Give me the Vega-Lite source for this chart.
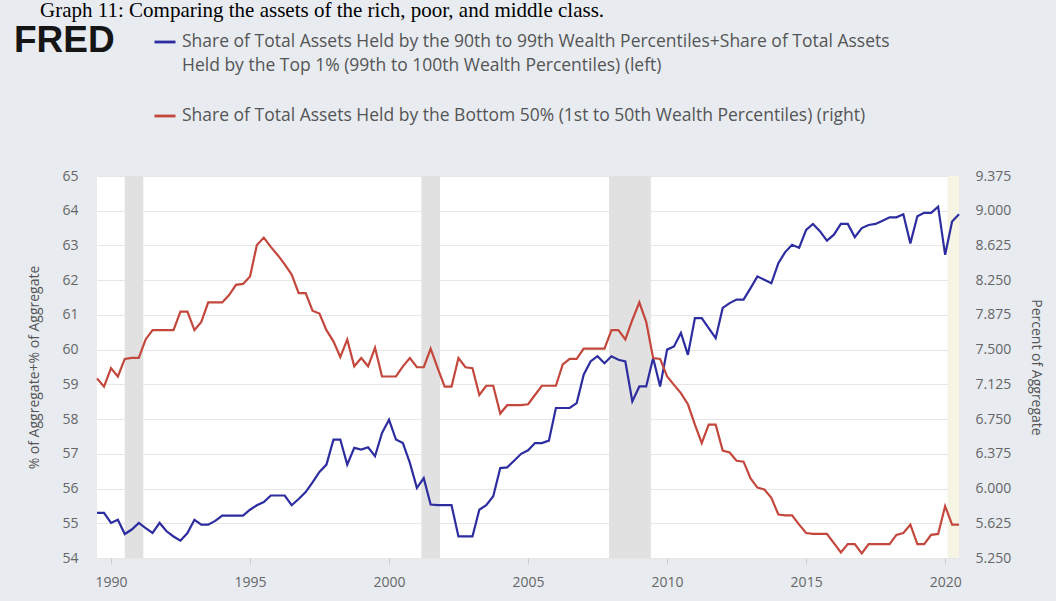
{
  "$schema": "https://vega.github.io/schema/vega-lite/v6.json",
  "width": 862,
  "height": 382,
  "autosize": {"type": "none"},
  "padding": {"left": 97, "top": 176, "right": 97, "bottom": 43},
  "background": "#e8ecf1",
  "config": {
    "view": {"fill": "#ffffff", "stroke": null},
    "font": "Open Sans",
    "style": {"guide-label": {"lineHeight": 24}},
    "axis": {"labelColor": "#666666", "labelFontSize": 14, "labelFont": "Open Sans", "titleFont": "Open Sans", "titleFontWeight": "normal", "titleColor": "#555555", "titleFontSize": 14, "gridColor": "#e6e6e6", "domain": false}
  },
  "title": {
    "text": "Graph 11: Comparing the assets of the rich, poor, and middle class.",
    "font": "Liberation Serif",
    "fontSize": 21,
    "fontWeight": "normal",
    "color": "#000000",
    "anchor": "start",
    "frame": "group",
    "baseline": "alphabetic",
    "dx": -57,
    "offset": -8
  },
  "datasets": {
    "rec": [
      {"start": "1990-07-01", "end": "1991-03-01", "kind": "gray"},
      {"start": "2001-03-01", "end": "2001-11-01", "kind": "gray"},
      {"start": "2007-12-01", "end": "2009-06-01", "kind": "gray"},
      {"start": "2020-02-01", "end": "2020-07-01", "kind": "covid"}
    ],
    "assets": [
      {"d": "1989-07-01", "top": 55.30, "bot": 7.19},
      {"d": "1989-10-01", "top": 55.30, "bot": 7.10},
      {"d": "1990-01-01", "top": 55.01, "bot": 7.30},
      {"d": "1990-04-01", "top": 55.10, "bot": 7.21},
      {"d": "1990-07-01", "top": 54.69, "bot": 7.40},
      {"d": "1990-10-01", "top": 54.82, "bot": 7.41},
      {"d": "1991-01-01", "top": 55.01, "bot": 7.41},
      {"d": "1991-04-01", "top": 54.86, "bot": 7.61},
      {"d": "1991-07-01", "top": 54.72, "bot": 7.71},
      {"d": "1991-10-01", "top": 55.01, "bot": 7.71},
      {"d": "1992-01-01", "top": 54.77, "bot": 7.71},
      {"d": "1992-04-01", "top": 54.62, "bot": 7.71},
      {"d": "1992-07-01", "top": 54.50, "bot": 7.91},
      {"d": "1992-10-01", "top": 54.72, "bot": 7.91},
      {"d": "1993-01-01", "top": 55.10, "bot": 7.71},
      {"d": "1993-04-01", "top": 54.96, "bot": 7.80},
      {"d": "1993-07-01", "top": 54.96, "bot": 8.01},
      {"d": "1993-10-01", "top": 55.07, "bot": 8.01},
      {"d": "1994-01-01", "top": 55.22, "bot": 8.01},
      {"d": "1994-04-01", "top": 55.22, "bot": 8.09},
      {"d": "1994-07-01", "top": 55.22, "bot": 8.20},
      {"d": "1994-10-01", "top": 55.22, "bot": 8.21},
      {"d": "1995-01-01", "top": 55.39, "bot": 8.29},
      {"d": "1995-04-01", "top": 55.52, "bot": 8.63},
      {"d": "1995-07-01", "top": 55.61, "bot": 8.71},
      {"d": "1995-10-01", "top": 55.80, "bot": 8.61},
      {"d": "1996-01-01", "top": 55.80, "bot": 8.52},
      {"d": "1996-04-01", "top": 55.80, "bot": 8.42},
      {"d": "1996-07-01", "top": 55.52, "bot": 8.31},
      {"d": "1996-10-01", "top": 55.70, "bot": 8.11},
      {"d": "1997-01-01", "top": 55.90, "bot": 8.11},
      {"d": "1997-04-01", "top": 56.18, "bot": 7.92},
      {"d": "1997-07-01", "top": 56.48, "bot": 7.89},
      {"d": "1997-10-01", "top": 56.69, "bot": 7.71},
      {"d": "1998-01-01", "top": 57.41, "bot": 7.59},
      {"d": "1998-04-01", "top": 57.41, "bot": 7.42},
      {"d": "1998-07-01", "top": 56.69, "bot": 7.61},
      {"d": "1998-10-01", "top": 57.17, "bot": 7.32},
      {"d": "1999-01-01", "top": 57.12, "bot": 7.41},
      {"d": "1999-04-01", "top": 57.19, "bot": 7.32},
      {"d": "1999-07-01", "top": 56.93, "bot": 7.52},
      {"d": "1999-10-01", "top": 57.60, "bot": 7.21},
      {"d": "2000-01-01", "top": 57.98, "bot": 7.21},
      {"d": "2000-04-01", "top": 57.41, "bot": 7.21},
      {"d": "2000-07-01", "top": 57.31, "bot": 7.32},
      {"d": "2000-10-01", "top": 56.74, "bot": 7.41},
      {"d": "2001-01-01", "top": 56.02, "bot": 7.31},
      {"d": "2001-04-01", "top": 56.30, "bot": 7.31},
      {"d": "2001-07-01", "top": 55.54, "bot": 7.51},
      {"d": "2001-10-01", "top": 55.52, "bot": 7.30},
      {"d": "2002-01-01", "top": 55.52, "bot": 7.10},
      {"d": "2002-04-01", "top": 55.52, "bot": 7.10},
      {"d": "2002-07-01", "top": 54.62, "bot": 7.41},
      {"d": "2002-10-01", "top": 54.62, "bot": 7.31},
      {"d": "2003-01-01", "top": 54.62, "bot": 7.30},
      {"d": "2003-04-01", "top": 55.39, "bot": 7.01},
      {"d": "2003-07-01", "top": 55.52, "bot": 7.11},
      {"d": "2003-10-01", "top": 55.78, "bot": 7.11},
      {"d": "2004-01-01", "top": 56.59, "bot": 6.81},
      {"d": "2004-04-01", "top": 56.61, "bot": 6.90},
      {"d": "2004-07-01", "top": 56.80, "bot": 6.90},
      {"d": "2004-10-01", "top": 57.00, "bot": 6.90},
      {"d": "2005-01-01", "top": 57.10, "bot": 6.91},
      {"d": "2005-04-01", "top": 57.31, "bot": 7.01},
      {"d": "2005-07-01", "top": 57.31, "bot": 7.11},
      {"d": "2005-10-01", "top": 57.38, "bot": 7.11},
      {"d": "2006-01-01", "top": 58.32, "bot": 7.11},
      {"d": "2006-04-01", "top": 58.32, "bot": 7.34},
      {"d": "2006-07-01", "top": 58.32, "bot": 7.40},
      {"d": "2006-10-01", "top": 58.46, "bot": 7.40},
      {"d": "2007-01-01", "top": 59.28, "bot": 7.51},
      {"d": "2007-04-01", "top": 59.66, "bot": 7.51},
      {"d": "2007-07-01", "top": 59.81, "bot": 7.51},
      {"d": "2007-10-01", "top": 59.61, "bot": 7.51},
      {"d": "2008-01-01", "top": 59.81, "bot": 7.71},
      {"d": "2008-04-01", "top": 59.71, "bot": 7.71},
      {"d": "2008-07-01", "top": 59.66, "bot": 7.61},
      {"d": "2008-10-01", "top": 58.51, "bot": 7.82},
      {"d": "2009-01-01", "top": 58.94, "bot": 8.01},
      {"d": "2009-04-01", "top": 58.94, "bot": 7.80},
      {"d": "2009-07-01", "top": 59.76, "bot": 7.41},
      {"d": "2009-10-01", "top": 58.94, "bot": 7.40},
      {"d": "2010-01-01", "top": 60.00, "bot": 7.21},
      {"d": "2010-04-01", "top": 60.09, "bot": 7.12},
      {"d": "2010-07-01", "top": 60.48, "bot": 7.03},
      {"d": "2010-10-01", "top": 59.85, "bot": 6.91},
      {"d": "2011-01-01", "top": 60.91, "bot": 6.69},
      {"d": "2011-04-01", "top": 60.91, "bot": 6.49},
      {"d": "2011-07-01", "top": 60.62, "bot": 6.69},
      {"d": "2011-10-01", "top": 60.33, "bot": 6.69},
      {"d": "2012-01-01", "top": 61.20, "bot": 6.41},
      {"d": "2012-04-01", "top": 61.34, "bot": 6.39},
      {"d": "2012-07-01", "top": 61.44, "bot": 6.30},
      {"d": "2012-10-01", "top": 61.44, "bot": 6.29},
      {"d": "2013-01-01", "top": 61.77, "bot": 6.11},
      {"d": "2013-04-01", "top": 62.11, "bot": 6.01},
      {"d": "2013-07-01", "top": 62.01, "bot": 5.99},
      {"d": "2013-10-01", "top": 61.91, "bot": 5.90},
      {"d": "2014-01-01", "top": 62.49, "bot": 5.72},
      {"d": "2014-04-01", "top": 62.81, "bot": 5.71},
      {"d": "2014-07-01", "top": 63.02, "bot": 5.71},
      {"d": "2014-10-01", "top": 62.93, "bot": 5.61},
      {"d": "2015-01-01", "top": 63.45, "bot": 5.52},
      {"d": "2015-04-01", "top": 63.62, "bot": 5.51},
      {"d": "2015-07-01", "top": 63.41, "bot": 5.51},
      {"d": "2015-10-01", "top": 63.14, "bot": 5.51},
      {"d": "2016-01-01", "top": 63.31, "bot": 5.41},
      {"d": "2016-04-01", "top": 63.62, "bot": 5.31},
      {"d": "2016-07-01", "top": 63.62, "bot": 5.40},
      {"d": "2016-10-01", "top": 63.24, "bot": 5.40},
      {"d": "2017-01-01", "top": 63.50, "bot": 5.30},
      {"d": "2017-04-01", "top": 63.59, "bot": 5.40},
      {"d": "2017-07-01", "top": 63.62, "bot": 5.40},
      {"d": "2017-10-01", "top": 63.71, "bot": 5.40},
      {"d": "2018-01-01", "top": 63.81, "bot": 5.40},
      {"d": "2018-04-01", "top": 63.81, "bot": 5.50},
      {"d": "2018-07-01", "top": 63.90, "bot": 5.52},
      {"d": "2018-10-01", "top": 63.06, "bot": 5.61},
      {"d": "2019-01-01", "top": 63.84, "bot": 5.40},
      {"d": "2019-04-01", "top": 63.94, "bot": 5.40},
      {"d": "2019-07-01", "top": 63.94, "bot": 5.50},
      {"d": "2019-10-01", "top": 64.12, "bot": 5.51},
      {"d": "2020-01-01", "top": 62.73, "bot": 5.81},
      {"d": "2020-04-01", "top": 63.69, "bot": 5.61},
      {"d": "2020-07-01", "top": 63.90, "bot": 5.61}
    ]
  },
  "layer": [
    {
      "data": {"name": "rec"},
      "transform": [{"filter": "datum.kind == 'gray'"}],
      "mark": {"type": "rect", "color": "#e1e1e1"},
      "encoding": {
        "x": {"field": "start", "type": "temporal", "scale": {"domain": ["1989-07-01", "2020-07-01"]},
              "axis": {"title": null, "format": "%Y", "values": [{"year": 1990}, {"year": 1995}, {"year": 2000}, {"year": 2005}, {"year": 2010}, {"year": 2015}, {"year": 2020}], "grid": false, "tickColor": "#cccccc", "tickSize": 6, "labelPadding": 11, "labelFont": "Open Sans", "labelFontSize": 14}},
        "x2": {"field": "end"}
      }
    },
    {
      "data": {"name": "rec"},
      "transform": [{"filter": "datum.kind == 'covid'"}],
      "mark": {"type": "rect", "color": "#f6f4e2"},
      "encoding": {
        "x": {"field": "start", "type": "temporal", "scale": {"domain": ["1989-07-01", "2020-07-01"]},
              "axis": {"title": null, "format": "%Y", "values": [{"year": 1990}, {"year": 1995}, {"year": 2000}, {"year": 2005}, {"year": 2010}, {"year": 2015}, {"year": 2020}], "grid": false, "tickColor": "#cccccc", "tickSize": 6, "labelPadding": 11, "labelFont": "Open Sans", "labelFontSize": 14}},
        "x2": {"field": "end"}
      }
    },
    {
      "data": {"name": "assets"},
      "mark": {"type": "line", "strokeWidth": 2.2},
      "encoding": {
        "x": {"field": "d", "type": "temporal", "scale": {"domain": ["1989-07-01", "2020-07-01"]},
              "axis": {"title": null, "format": "%Y", "values": [{"year": 1990}, {"year": 1995}, {"year": 2000}, {"year": 2005}, {"year": 2010}, {"year": 2015}, {"year": 2020}], "grid": false, "tickColor": "#cccccc", "tickSize": 6, "labelPadding": 11, "labelFont": "Open Sans", "labelFontSize": 14}},
        "y": {"field": "top", "type": "quantitative", "scale": {"domain": [54, 65], "nice": false, "zero": false},
              "axis": {"orient": "left", "title": "% of Aggregate+% of Aggregate", "values": [54, 55, 56, 57, 58, 59, 60, 61, 62, 63, 64, 65], "ticks": false, "labelPadding": 19, "titlePadding": 20, "grid": true, "labelFont": "Open Sans", "labelFontSize": 14}},
        "color": {"datum": "rich", "type": "nominal", "scale": {"domain": ["rich", "poor"], "range": ["#2d2da0", "#c4473d"]},
                  "legend": {
                    "orient": "none", "legendX": -83, "legendY": -146, "direction": "vertical",
                    "title": "FRED", "titleOrient": "left", "titleAnchor": "start", "titleFont": "Liberation Sans", "titleFontSize": 37, "titleFontWeight": "bold", "titleColor": "#151515", "titlePadding": 38, "titleBaseline": "line-top", "titleLineHeight": 22,
                    "symbolType": "stroke", "symbolStrokeWidth": 2.8, "symbolSize": 441, "labelOffset": 5,
                    "labelFont": "Open Sans", "labelFontSize": 17.5, "labelColor": "#555555", "labelLimit": 1000, "rowPadding": 29,
                    "labelExpr": "datum.value == 'rich' ? ['Share of Total Assets Held by the 90th to 99th Wealth Percentiles+Share of Total Assets', 'Held by the Top 1% (99th to 100th Wealth Percentiles) (left)'] : 'Share of Total Assets Held by the Bottom 50% (1st to 50th Wealth Percentiles) (right)'"
                  }}
      }
    },
    {
      "data": {"name": "assets"},
      "mark": {"type": "line", "strokeWidth": 2.2},
      "encoding": {
        "x": {"field": "d", "type": "temporal", "scale": {"domain": ["1989-07-01", "2020-07-01"]},
              "axis": {"title": null, "format": "%Y", "values": [{"year": 1990}, {"year": 1995}, {"year": 2000}, {"year": 2005}, {"year": 2010}, {"year": 2015}, {"year": 2020}], "grid": false, "tickColor": "#cccccc", "tickSize": 6, "labelPadding": 11, "labelFont": "Open Sans", "labelFontSize": 14}},
        "y": {"field": "bot", "type": "quantitative", "scale": {"domain": [5.25, 9.375], "nice": false, "zero": false},
              "axis": {"orient": "right", "title": "Percent of Aggregate", "titleAngle": 90, "values": [5.25, 5.625, 6, 6.375, 6.75, 7.125, 7.5, 7.875, 8.25, 8.625, 9, 9.375], "format": ".3f", "ticks": false, "labelPadding": 16, "titlePadding": 18, "grid": false, "labelFont": "Open Sans", "labelFontSize": 14}},
        "color": {"datum": "poor", "type": "nominal"}
      }
    }
  ],
  "resolve": {"scale": {"y": "independent"}}
}
